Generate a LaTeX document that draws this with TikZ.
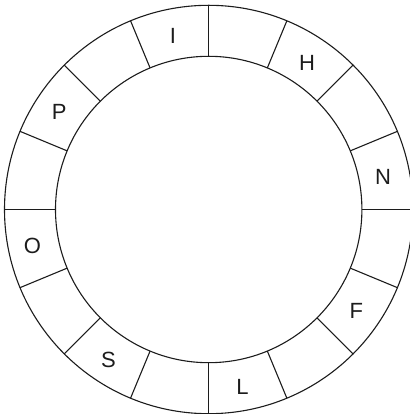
\documentclass[tikz,border=0pt]{standalone}
\usepackage{fontspec}
\setmainfont{Liberation Sans}
\usepackage{tikz}
\usetikzlibrary{calc}
\definecolor{Ink}{HTML}{1C1C1C}

\tikzset{
  ring/.style={draw=Ink,line width=1.1pt},
  seat/.style={text=Ink,inner sep=0pt,xshift=-1pt,yshift=-2pt}
}

\begin{document}
\begin{tikzpicture}[x=1pt,y=1pt,font=\fontsize{22}{26}\selectfont]
\useasboundingbox (0,0) rectangle (409,414);
\coordinate (c) at (208.7,204.5);
\draw[ring] (c) circle[radius=204.2];
\draw[ring] (c) circle[radius=153.2];
\foreach \a in {0,22.5,...,337.5}{
  \draw[ring] ($(c)+(\a:153.2)$) -- ($(c)+(\a:204.2)$);
}
\foreach \a/\t in {101.25/I,56.25/H,11.25/N,326.25/F,281.25/L,236.25/S,191.25/O,146.25/P}{
  \node[seat] (seat\t) at ($(c)+(\a:178.7)$) {\t};
}
\end{tikzpicture}
\end{document}
